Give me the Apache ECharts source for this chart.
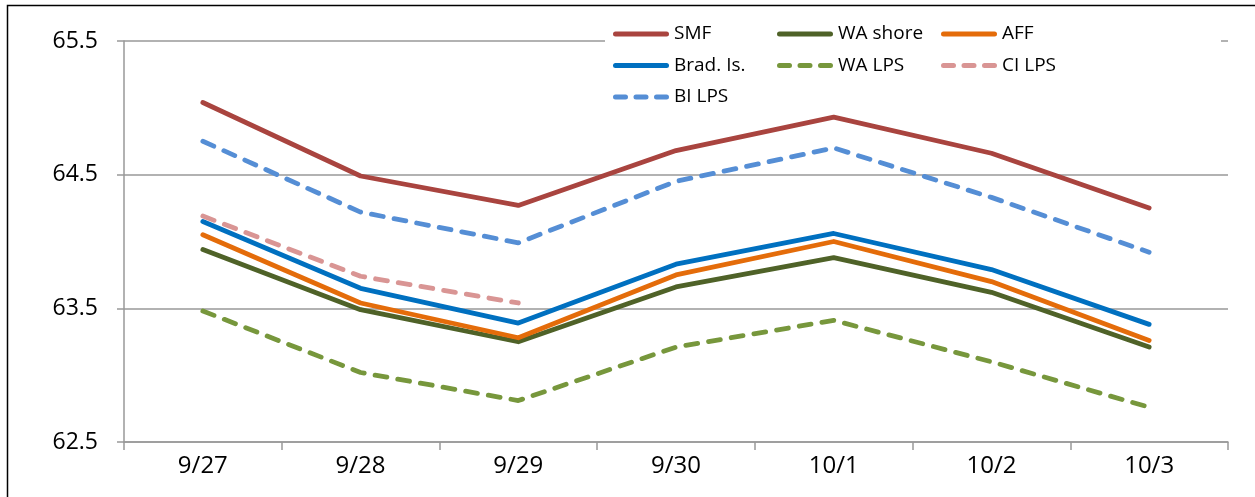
<!DOCTYPE html>
<html><head><meta charset="utf-8">
<script src="https://cdn.jsdelivr.net/npm/echarts@6/dist/echarts.min.js"></script>
<style>html,body{margin:0;padding:0;background:#fff}#c{width:1255px;height:497px}</style>
</head><body><div id="c"></div>
<script>
const categories = ['9/27','9/28','9/29','9/30','10/1','10/2','10/3'];
const yTicks = [62.5, 63.5, 64.5, 65.5];
const smf     = [65.04, 64.49, 64.27, 64.68, 64.93, 64.66, 64.25];
const waShore = [63.94, 63.49, 63.25, 63.66, 63.88, 63.62, 63.21];
const aff     = [64.05, 63.54, 63.28, 63.75, 64.00, 63.70, 63.26];
const bradIs  = [64.15, 63.65, 63.39, 63.83, 64.06, 63.79, 63.38];
const waLps   = [63.48, 63.02, 62.81, 63.21, 63.41, 63.10, 62.76];
const ciLps   = [64.19, 63.74, 63.54, null, null, null, null];
const biLps   = [64.75, 64.22, 63.99, 64.45, 64.70, 64.33, 63.92];

const FONT = '"Open Sans", "Noto Sans", sans-serif';
const SOLID_ICON = 'path://M2.5,0H53.5A2.5,2.5,0,0,1,53.5,5H2.5A2.5,2.5,0,0,1,2.5,0Z';
const DASH_ICON = 'path://M2.5,0H12.5A2.5,2.5,0,0,1,12.5,5H2.5A2.5,2.5,0,0,1,2.5,0Z' +
  'M23,0H33A2.5,2.5,0,0,1,33,5H23A2.5,2.5,0,0,1,23,0Z' +
  'M43.5,0H53.5A2.5,2.5,0,0,1,53.5,5H43.5A2.5,2.5,0,0,1,43.5,0Z';

function mk(name, data, color, dashed) {
  return {
    name, type: 'line', data, symbol: 'none', smooth: false, connectNulls: false,
    lineStyle: { color, width: 4.8, type: dashed ? [12, 11] : 'solid', cap: 'round', join: 'round' },
    itemStyle: { color }
  };
}
const legendBase = {
  orient: 'vertical', itemWidth: 56, itemHeight: 5, itemGap: 11.5, top: 24,
  symbolKeepAspect: false,
  textStyle: { fontFamily: FONT, fontSize: 19, lineHeight: 20, color: '#000' },
  padding: 0
};
function li(name, dashed) { return { name, icon: dashed ? DASH_ICON : SOLID_ICON }; }
const chart = echarts.init(document.getElementById('c'), null, { renderer: 'canvas' });
chart.setOption({
  animation: false,
  grid: { left: 124, right: 27, top: 41, bottom: 55, containLabel: false },
  graphic: [
    { type: 'rect', z: 3, shape: { x: 605, y: 18, width: 616, height: 94 }, style: { fill: '#fff' } },
    { type: 'rect', z: 100, shape: { x: 7.5, y: 5.5, width: 1400, height: 700 }, style: { fill: null, stroke: '#000', lineWidth: 1.5 } }
  ],
  legend: [
    Object.assign({}, legendBase, { left: 613, data: [li('SMF'), li('Brad. Is.'), li('BI LPS', true)] }),
    Object.assign({}, legendBase, { left: 777, data: [li('WA shore'), li('WA LPS', true)] }),
    Object.assign({}, legendBase, { left: 941, data: [li('AFF'), li('CI LPS', true)] })
  ],
  xAxis: {
    type: 'category', data: categories, boundaryGap: true,
    axisLine: { lineStyle: { color: '#999', width: 1.5 } },
    axisTick: { show: true, length: 8, lineStyle: { color: '#999', width: 1.5 } },
    axisLabel: { fontFamily: FONT, fontSize: 24, color: '#000', margin: 12 }
  },
  yAxis: {
    type: 'value', min: yTicks[0], max: yTicks[yTicks.length - 1], interval: 1,
    axisLine: { show: true, lineStyle: { color: '#999', width: 1.5 } },
    axisTick: { show: true, length: 7, lineStyle: { color: '#999', width: 1.5 } },
    splitLine: { show: true, lineStyle: { color: '#999', width: 1.5 } },
    axisLabel: { fontFamily: FONT, fontSize: 23, color: '#000', margin: 26, formatter: v => v.toFixed(1) }
  },
  series: [
    mk('SMF', smf, '#A9443F', false),
    mk('WA shore', waShore, '#4F6228', false),
    mk('AFF', aff, '#E46C0A', false),
    mk('Brad. Is.', bradIs, '#0070C0', false),
    mk('WA LPS', waLps, '#77973C', true),
    mk('CI LPS', ciLps, '#D99594', true),
    mk('BI LPS', biLps, '#558ED5', true)
  ]
});
</script></body></html>
